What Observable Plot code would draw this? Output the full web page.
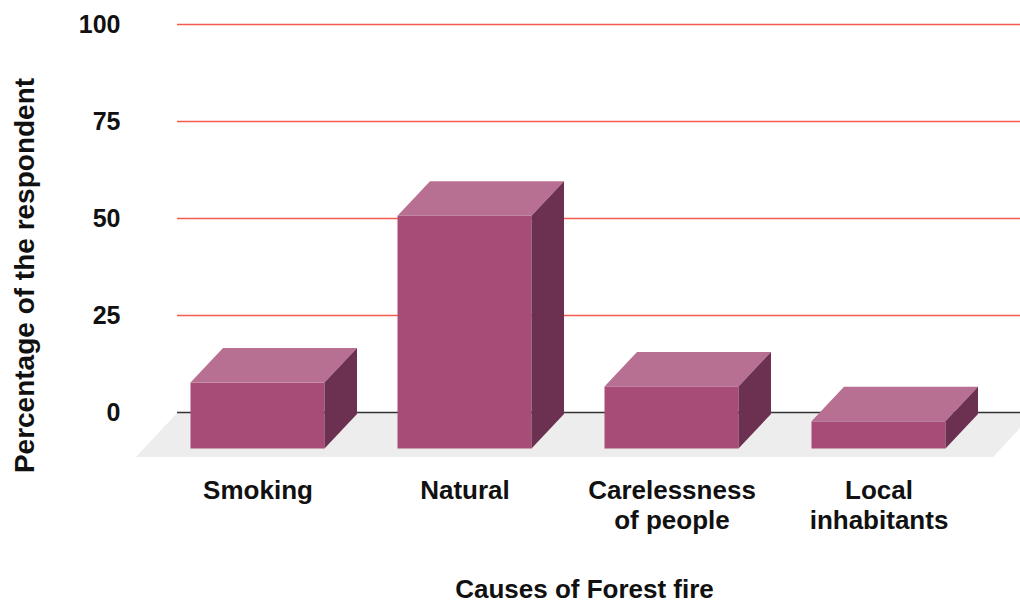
<!DOCTYPE html>
<html><head><meta charset="utf-8">
<script src="https://cdn.jsdelivr.net/npm/d3@7"></script>
<script src="https://cdn.jsdelivr.net/npm/@observablehq/plot@0.6"></script>
<style>body{margin:0;background:#fff}</style>
</head><body><div id="chart"></div>
<script>
const causes = ["Smoking", "Natural", "Carelessness of people", "Local inhabitants"];
const causeLabels = ["Smoking", "Natural", "Carelessness\nof people", "Local\ninhabitants"];
const percentages = [17, 60, 16, 7];
const yTicks = [0, 25, 50, 75, 100];
const xTitle = "Causes of Forest fire";
const yTitle = "Percentage of the respondent";

const data = causes.map((c, i) => ({cause: c, value: percentages[i]}));
const labelOf = new Map(causes.map((c, i) => [c, causeLabels[i]]));

const DX = 32.5, DY = 34.5; // 3D depth offsets (px)
const FONT = "'Liberation Sans', Arial, sans-serif";
const FRONT = "#a64c77", TOP = "#b87092", SIDE = "#6c3050";

function floorMark(index, scales, values, dim) {
  const y0 = scales.y(0);
  const L = dim.marginLeft, R = dim.width - dim.marginRight;
  const g = d3.create("svg:g");
  g.append("polygon")
    .attr("points", [[L, y0 + 1], [R + 14, y0 + 1], [R - 27, y0 + 45], [L - 41, y0 + 45]].join(" "))
    .attr("fill", "#ededed");
  return g.node();
}

function barsMark(index, scales, values, dim) {
  const x = scales.x, y = scales.y;
  const bw = typeof x.bandwidth === "function" ? x.bandwidth() : x.bandwidth;
  const g = d3.create("svg:g");
  const base = y(0) + 2;
  for (const d of data) {
    const bx = x(d.cause), by = y(d.value) + 2;
    const fx = bx - DX, fTop = by + DY, fBot = base + DY;
    g.append("rect").attr("x", fx).attr("y", fTop).attr("width", bw).attr("height", fBot - fTop).attr("fill", FRONT);
    g.append("polygon").attr("points", [[fx, fTop], [fx + bw, fTop], [fx + bw + DX, fTop - DY], [fx + DX, fTop - DY]].join(" ")).attr("fill", TOP);
    g.append("polygon").attr("points", [[fx + bw, fTop], [fx + bw + DX, fTop - DY], [fx + bw + DX, fBot - DY], [fx + bw, fBot]].join(" ")).attr("fill", SIDE);
  }
  return g.node();
}

const chart = Plot.plot({
  width: 1020,
  height: 605,
  marginLeft: 177,
  marginRight: 0,
  marginTop: 24,
  marginBottom: 193,
  style: {fontFamily: FONT, fontWeight: "bold", fontSize: "26px", color: "#111", background: "#fff"},
  x: {type: "band", domain: causes, paddingInner: 0.354, paddingOuter: 0.21, align: 0.523, label: null},
  y: {domain: [0, 100], label: null},
  marks: [
    floorMark,
    Plot.ruleY(yTicks.filter(t => t !== 0), {stroke: "#f55a4e", strokeWidth: 1.6}),
    Plot.ruleY([0], {stroke: "#333", strokeWidth: 1.5}),
    barsMark,
    Plot.axisY({ticks: yTicks, tickSize: 0, tickPadding: 57, label: null, fontSize: 25}),
    Plot.axisX({tickSize: 0, tickPadding: 65, dx: -DX, tickFormat: d => labelOf.get(d), label: null, fontSize: 26, lineHeight: 1.15}),
    Plot.text([xTitle], {text: d => d, frameAnchor: "bottom", dy: 185, dx: -14.5, fontSize: 26}),
    Plot.text([yTitle], {text: d => d, frameAnchor: "left", textAnchor: "middle", lineAnchor: "middle", rotate: -90, dx: -152, dy: 57, fontSize: 28})
  ]
});
document.getElementById("chart").appendChild(chart);
</script>
</body></html>
